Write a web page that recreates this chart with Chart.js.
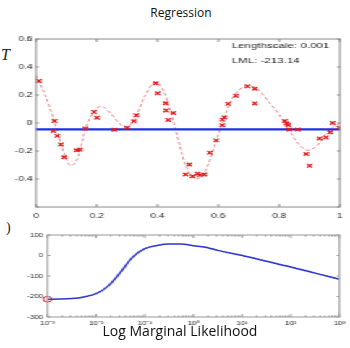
<!DOCTYPE html>
<html>
<head>
<meta charset="utf-8">
<script src="https://cdn.jsdelivr.net/npm/chart.js@4.4.1/dist/chart.umd.min.js"></script>
<style>
  html, body { margin: 0; padding: 0; background: #fff; }
  body { width: 350px; height: 348px; position: relative; overflow: hidden; }
  /* the figure in the picture is stretched sideways, so draw narrow and scale */
  #stretch { position: absolute; left: 0; top: 0; width: 242px; height: 348px;
             transform: scaleX(1.4463); transform-origin: 0 0; }
  #regCanvas { position: absolute; left: 0; top: 30px; width: 242px; height: 195px; }
  #lmlCanvas { position: absolute; left: 0; top: 226px; width: 242px; height: 122px; }
  .label { position: absolute; font-family: "Open Sans", sans-serif; color: #111; white-space: nowrap; }
  .frag { position: absolute; font-family: "Liberation Serif", serif; font-style: italic; color: #222; }
</style>
</head>
<body>
<div class="label" style="left:0;width:362px;top:4px;text-align:center;font-size:12px;">Regression</div>
<div class="frag" style="left:1px;top:46px;font-size:16px;">T</div>
<div class="frag" style="left:6px;top:220px;font-size:14px;font-style:normal;">)</div>

<div id="stretch">
  <canvas id="regCanvas" width="242" height="195"></canvas>
  <canvas id="lmlCanvas" width="242" height="122"></canvas>
</div>
<div class="label" style="left:0;width:360px;top:321px;text-align:center;font-size:14px;">Log Marginal Likelihood</div>

<script>
/**************************************************************
 * Data
 **************************************************************/
// observed training points (red crosses)
const ptsX = [0.01, 0.057, 0.061, 0.07, 0.082, 0.093, 0.134, 0.145, 0.163, 0.191,
              0.201, 0.258, 0.30, 0.322, 0.33, 0.394, 0.40, 0.427, 0.428, 0.435,
              0.452, 0.492, 0.504, 0.515, 0.531, 0.539, 0.554, 0.572, 0.593, 0.613,
              0.613, 0.62, 0.632, 0.658, 0.696, 0.72, 0.72, 0.819, 0.825, 0.83,
              0.833, 0.861, 0.889, 0.90, 0.933, 0.954, 0.968, 0.976, 0.998];
const ptsY = [0.30, -0.057, 0.014, -0.092, -0.153, -0.245, -0.195, -0.19, -0.04, 0.078,
              0.038, -0.048, -0.034, 0.012, 0.055, 0.284, 0.212, 0.141, 0.09, 0.022,
              0.071, -0.368, -0.296, -0.38, -0.362, -0.372, -0.368, -0.212, -0.124, -0.016,
              0.024, 0.04, 0.137, 0.194, 0.262, 0.245, 0.14, 0.014, -0.004, -0.014,
              -0.047, -0.047, -0.221, -0.306, -0.11, -0.103, -0.066, 0.0, -0.033];

// dashed red fit
const fitX = [0, 0.03, 0.062, 0.09, 0.115, 0.14, 0.163, 0.19, 0.215, 0.245,
              0.27, 0.295, 0.325, 0.36, 0.392, 0.42, 0.44, 0.46, 0.49, 0.527,
              0.56, 0.585, 0.61, 0.64, 0.67, 0.70, 0.73, 0.77, 0.80, 0.83,
              0.86, 0.895, 0.93, 0.96, 1.0];
const fitY = [0.34, 0.2, 0.0, -0.2, -0.305, -0.235, -0.04, 0.08, 0.12, 0.07,
              0.007, -0.033, 0.03, 0.2, 0.29, 0.23, 0.1, -0.05, -0.29, -0.4,
              -0.33, -0.18, -0.02, 0.15, 0.24, 0.267, 0.24, 0.14, 0.06, -0.04,
              -0.14, -0.195, -0.15, -0.06, 0.0];

// blue flat line
const meanLevel = -0.045;
const meanX = [0, 1];

const annotationLines = ["Lengthscale: 0.001", "LML: -213.14"];

// log marginal likelihood vs lengthscale
const lengthscales = [0.001, 0.0018, 0.0032, 0.0056, 0.01, 0.0178, 0.0316, 0.0562, 0.1, 0.178,
                      0.316, 0.562, 1, 1.78, 3.16, 10, 31.6, 100, 316, 1000];
const lmlValues = [-213, -212.5, -210, -202, -186, -148, -82, -8, 33, 49,
                   56, 56, 48, 40, 25, 0, -28, -56, -86, -116];
const currentLs = [0.001];
const currentLml = [-213.14];

const lsTicks = [0.001, 0.01, 0.1, 1, 10, 100, 1000];
const lsTickLabels = ["10\u207B\u00B3", "10\u207B\u00B2", "10\u207B\u00B9", "10\u2070", "10\u00B9", "10\u00B2", "10\u00B3"];

/**************************************************************
 * Layout helpers
 **************************************************************/
const SX = 1.4463; // horizontal stretch of the wrapper

Chart.defaults.font.family = "'Liberation Sans', Arial, sans-serif";
Chart.defaults.color = "#222";
Chart.defaults.animation = false;

const noGrid = { display: false, drawTicks: false, tickLength: 0 };

// box around the plot with inward ticks on all four sides
const framePlugin = {
  id: "frame",
  afterDatasetsDraw(chart, args, opts) {
    const { ctx, chartArea: a, scales } = chart;
    ctx.save();
    ctx.strokeStyle = opts.color || "#888";
    ctx.lineWidth = 1;
    ctx.strokeRect(a.left, a.top, a.right - a.left, a.bottom - a.top);
    ctx.beginPath();
    scales.x.ticks.forEach(t => {
      let len = 3;
      if (opts.logX) {
        const e = Math.floor(Math.log10(t.value) + 1e-9);
        const m = t.value / Math.pow(10, e);
        if (Math.abs(m - Math.round(m)) > 1e-6) return;
        len = Math.abs(m - 1) < 1e-6 ? 3 : 1.6;
      }
      const px = scales.x.getPixelForValue(t.value);
      ctx.moveTo(px, a.bottom); ctx.lineTo(px, a.bottom - len);
      ctx.moveTo(px, a.top); ctx.lineTo(px, a.top + len);
    });
    scales.y.ticks.forEach(t => {
      const py = scales.y.getPixelForValue(t.value);
      ctx.moveTo(a.left, py); ctx.lineTo(a.left + 2, py);
      ctx.moveTo(a.right, py); ctx.lineTo(a.right - 2, py);
    });
    ctx.stroke();
    ctx.restore();
  }
};

// text box in the top right corner of the regression plot
const notePlugin = {
  id: "note",
  afterDraw(chart, args, opts) {
    if (!opts.lines) return;
    const { ctx, chartArea: a } = chart;
    ctx.save();
    ctx.font = "8px 'Liberation Sans', Arial, sans-serif";
    ctx.fillStyle = "#222";
    ctx.textBaseline = "alphabetic";
    opts.lines.forEach((line, i) => {
      ctx.fillText(line, a.right - 74.9, a.top + 9 + i * 14.7);
    });
    ctx.restore();
  }
};

/**************************************************************
 * 1. Regression plot
 **************************************************************/
new Chart(document.getElementById("regCanvas"), {
  type: "scatter",
  data: {
    datasets: [
      {
        label: "data",
        data: ptsX.map((x, i) => ({ x, y: ptsY[i] })),
        pointStyle: "crossRot",
        pointRadius: 2.5,
        borderColor: "#e01c1c",
        backgroundColor: "#e01c1c",
        pointBorderWidth: 1.3,
        order: 0
      },
      {
        label: "mean",
        data: meanX.map(x => ({ x, y: meanLevel })),
        showLine: true,
        borderColor: "#1f2fe8",
        borderWidth: 2.2,
        pointRadius: 0,
        order: 1
      },
      {
        label: "fit",
        data: fitX.map((x, i) => ({ x, y: fitY[i] })),
        showLine: true,
        borderColor: "rgba(225, 95, 95, 0.75)",
        borderWidth: 1,
        borderDash: [3, 2],
        cubicInterpolationMode: "monotone",
        pointRadius: 0,
        order: 2
      }
    ]
  },
  options: {
    responsive: false,
    layout: { padding: { top: 9, right: 242 - 340 / SX, left: 0, bottom: 0 } },
    plugins: {
      legend: { display: false },
      tooltip: { enabled: false },
      frame: { color: "#8a8a8a" },
      note: { lines: annotationLines }
    },
    scales: {
      x: {
        type: "linear", min: 0, max: 1,
        grid: noGrid, border: { display: false },
        ticks: { stepSize: 0.2, padding: 5, font: { size: 7 }, maxRotation: 0,
                 callback: v => String(Math.round(v * 10) / 10) },
        afterFit: s => { s.height = 18; }
      },
      y: {
        min: -0.6, max: 0.6,
        grid: noGrid, border: { display: false },
        ticks: { stepSize: 0.2, padding: 2.5, font: { size: 7 },
                 callback: v => (v < -0.59 ? "" : String(Math.round(v * 10) / 10)) },
        afterFit: s => { s.width = 36 / SX; }
      }
    }
  },
  plugins: [framePlugin, notePlugin]
});

/**************************************************************
 * 2. Log marginal likelihood plot
 **************************************************************/
new Chart(document.getElementById("lmlCanvas"), {
  type: "scatter",
  data: {
    datasets: [
      {
        label: "current",
        data: currentLs.map((x, i) => ({ x, y: currentLml[i] })),
        pointStyle: "circle",
        pointRadius: 2.9,
        pointBorderWidth: 1,
        borderColor: "#e02020",
        backgroundColor: "rgba(0,0,0,0)",
        clip: false,
        order: 0
      },
      {
        label: "lml",
        data: lengthscales.map((x, i) => ({ x, y: lmlValues[i] })),
        showLine: true,
        borderColor: "#2b35cc",
        borderWidth: 1.5,
        cubicInterpolationMode: "monotone",
        pointRadius: 0,
        order: 1
      }
    ]
  },
  options: {
    responsive: false,
    layout: { padding: { top: 9, right: 242 - 339.5 / SX, left: 0, bottom: 0 } },
    plugins: {
      legend: { display: false },
      tooltip: { enabled: false },
      frame: { color: "#9a9a9a", logX: true }
    },
    scales: {
      x: {
        type: "logarithmic", min: 0.001, max: 1000,
        grid: noGrid, border: { display: false },
        ticks: {
          autoSkip: false, padding: 3, maxRotation: 0, font: { size: 5.5 },
          callback: function (v) {
            const i = lsTicks.findIndex(t => Math.abs(v / t - 1) < 1e-6);
            return i >= 0 ? lsTickLabels[i] : "";
          }
        },
        afterFit: s => { s.height = 31; }
      },
      y: {
        min: -300, max: 100,
        grid: noGrid, border: { display: false },
        ticks: { stepSize: 100, padding: 3, font: { size: 5.5 } },
        afterFit: s => { s.width = 47.5 / SX; }
      }
    }
  },
  plugins: [framePlugin]
});
</script>
</body>
</html>
